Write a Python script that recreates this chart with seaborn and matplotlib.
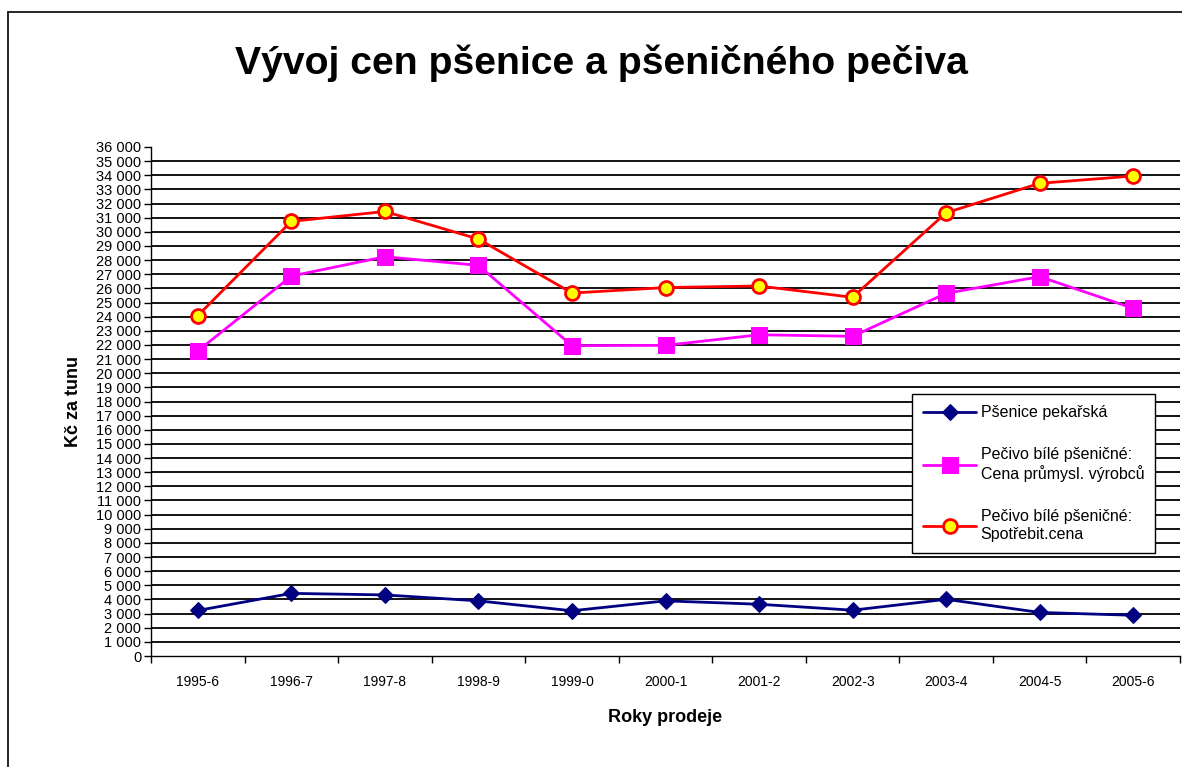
import matplotlib
matplotlib.use("Agg")
import matplotlib.pyplot as plt
from matplotlib.lines import Line2D
from matplotlib.ticker import FuncFormatter, FixedLocator
import seaborn as sns
import pandas as pd

years = ["1995-6", "1996-7", "1997-8", "1998-9", "1999-0", "2000-1",
         "2001-2", "2002-3", "2003-4", "2004-5", "2005-6"]
psenice = [3220, 4430, 4320, 3900, 3200, 3900, 3660, 3240, 4010, 3080, 2880]
pecivo_prum = [21570, 26870, 28240, 27630, 21950, 21970, 22720, 22610, 25650, 26830, 24590]
pecivo_spotr = [24070, 30740, 31440, 29490, 25670, 26060, 26170, 25370, 31350, 33430, 33950]

labels = ["Pšenice pekařská",
          "Pečivo bílé pšeničné:\nCena průmysl. výrobců",
          "Pečivo bílé pšeničné:\nSpotřebit.cena"]

sns.set_theme(style="white")
plt.rcParams['font.family'] = ['Liberation Sans', 'DejaVu Sans']
plt.rcParams['text.color'] = 'black'
plt.rcParams['axes.labelcolor'] = 'black'
plt.rcParams['xtick.color'] = 'black'
plt.rcParams['ytick.color'] = 'black'

fig = plt.figure(figsize=(11.82, 7.67), dpi=100)
ax = fig.add_axes([151/1182, 1-656/767, (1180-151)/1182, (656-147)/767])

pos = list(range(len(years)))
df = pd.DataFrame({"pos": pos, "a": psenice, "b": pecivo_prum, "c": pecivo_spotr})

# gridlines
for v in range(1000, 36000, 1000):
    ax.axhline(v, color="black", lw=1.3, zorder=0)

sns.lineplot(data=df, x="pos", y="a", ax=ax, color="#000080", lw=2,
             marker="D", markersize=8, markeredgecolor="#000080", markerfacecolor="#000080", label=labels[0])
sns.lineplot(data=df, x="pos", y="b", ax=ax, color="#FF00FF", lw=2,
             marker="s", markersize=11, markeredgecolor="#FF00FF", markerfacecolor="#FF00FF", label=labels[1])
sns.lineplot(data=df, x="pos", y="c", ax=ax, color="#FF0000", lw=2,
             marker="o", markersize=10, markeredgewidth=2, markeredgecolor="#FF0000", markerfacecolor="#FFFF00", label=labels[2])

ax.set_xlim(-0.5, len(years) - 0.5)
ax.set_ylim(0, 36000)
ax.yaxis.set_major_locator(FixedLocator(range(0, 36001, 1000)))
ax.yaxis.set_major_formatter(FuncFormatter(lambda v, p: f"{int(v):,}".replace(",", " ")))
ax.set_xticks(pos)
ax.set_xticklabels(years, fontsize=10)
ax.set_xticks([p - 0.5 for p in pos] + [len(years) - 0.5], minor=True)
ax.tick_params(axis="x", which="major", length=0, pad=14)
ax.tick_params(axis="x", which="minor", length=5, width=1, color="black", direction="out", bottom=True)
ax.tick_params(axis="y", which="major", length=5, width=1, color="black", direction="out", left=True, labelsize=10.5, pad=2)

for s in ["top", "right"]:
    ax.spines[s].set_visible(False)
for s in ["left", "bottom"]:
    ax.spines[s].set_color("black")
    ax.spines[s].set_linewidth(1)

ax.set_xlabel("Roky prodeje", fontsize=13, fontweight="bold", labelpad=14)
ax.set_ylabel("Kč za tunu", fontsize=13, fontweight="bold", labelpad=10)

fig.suptitle("Vývoj cen pšenice a pšeničného pečiva", x=601/1182, y=1-63/767, va="center",
             fontsize=28.2, fontweight="bold")

leg = ax.legend(loc="upper left", bbox_to_anchor=(912/1182, 1-394/767), bbox_transform=fig.transFigure,
                frameon=True, fancybox=False, edgecolor="black", fontsize=11.5,
                labelspacing=1.7, handlelength=3.3, handletextpad=0.3, borderpad=0.7, borderaxespad=0)
leg.get_frame().set_linewidth(1)
leg.get_frame().set_facecolor("white")
leg.get_frame().set_alpha(1)

# outer figure frame (left and top edges visible)
fig.add_artist(Line2D([8/1182, 8/1182], [0, 1-12/767], transform=fig.transFigure, color="black", lw=1.2))
fig.add_artist(Line2D([8/1182, 1], [1-12/767, 1-12/767], transform=fig.transFigure, color="black", lw=1.2))

fig.savefig("out.png", dpi=100, facecolor="white")
